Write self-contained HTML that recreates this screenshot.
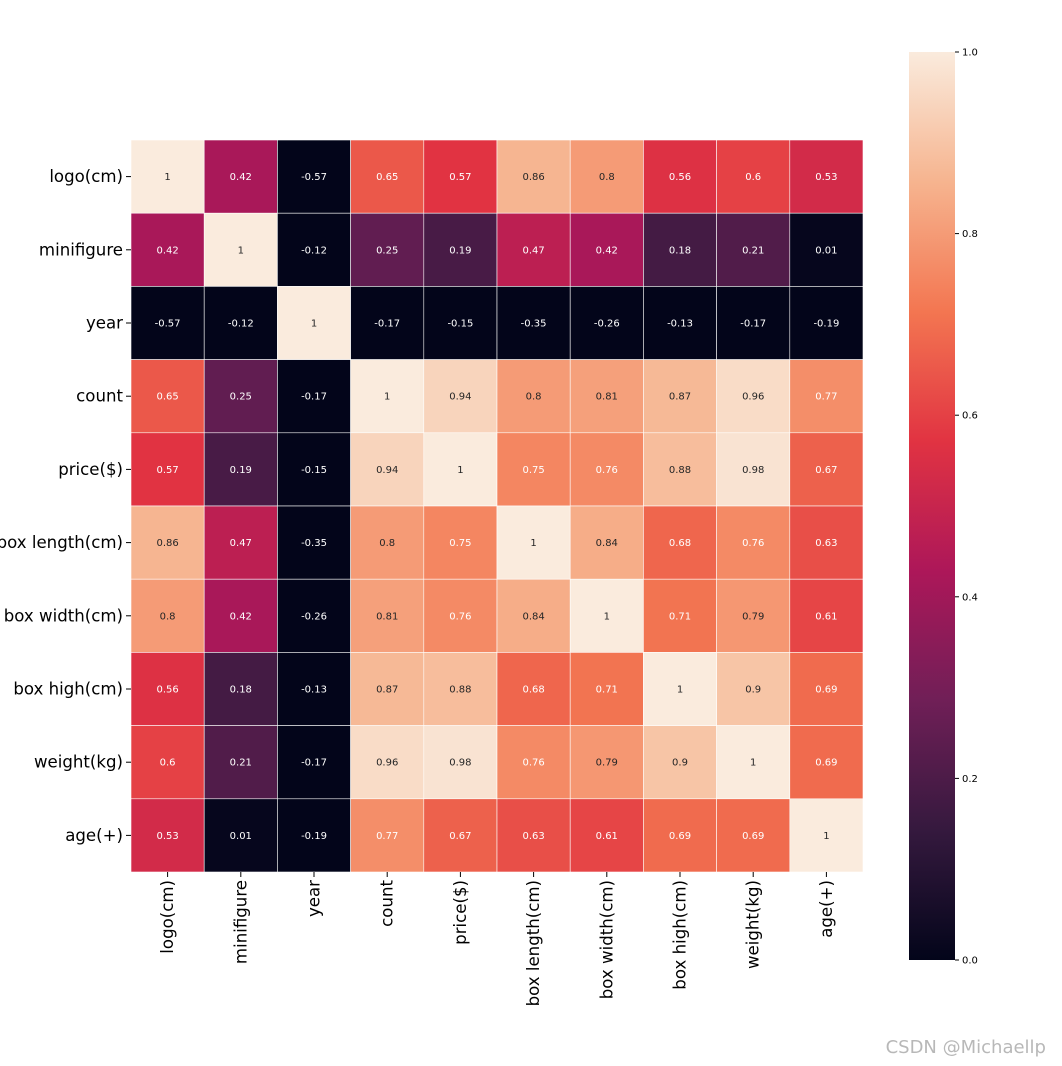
<!DOCTYPE html>
<html><head><meta charset="utf-8"><style>body{margin:0;background:#fff}svg{display:block}</style></head>
<body>
<svg id="c" width="1062" height="1066" xmlns="http://www.w3.org/2000/svg" font-family="'DejaVu Sans','Liberation Sans',sans-serif">
<defs><linearGradient id="cbg" x1="0" y1="1" x2="0" y2="0">
<stop offset="0" stop-color="#03051a"/><stop offset="0.143" stop-color="#35193e"/><stop offset="0.286" stop-color="#701f57"/><stop offset="0.429" stop-color="#ad1759"/><stop offset="0.571" stop-color="#e13342"/><stop offset="0.714" stop-color="#f37651"/><stop offset="0.857" stop-color="#f6b48f"/><stop offset="1" stop-color="#faebdd"/>
</linearGradient></defs>
<g id="cells"></g><g id="ylab"></g><g id="xlab"></g>
<rect x="909" y="52" width="46" height="908" fill="url(#cbg)"/>
<g id="cbt"></g>
<text x="1046" y="1053" text-anchor="end" font-size="18" fill="#b8b8b8" font-family="'DejaVu Sans','Noto Sans CJK SC',sans-serif">CSDN @Michaellp</text>
</svg>
<script>
const labels=["logo(cm)","minifigure","year","count","price($)","box length(cm)","box width(cm)","box high(cm)","weight(kg)","age(+)"];
const row0=[1,0.42,-0.57,0.65,0.57,0.86,0.8,0.56,0.6,0.53];
const row1=[0.42,1,-0.12,0.25,0.19,0.47,0.42,0.18,0.21,0.01];
const row2=[-0.57,-0.12,1,-0.17,-0.15,-0.35,-0.26,-0.13,-0.17,-0.19];
const row3=[0.65,0.25,-0.17,1,0.94,0.8,0.81,0.87,0.96,0.77];
const row4=[0.57,0.19,-0.15,0.94,1,0.75,0.76,0.88,0.98,0.67];
const row5=[0.86,0.47,-0.35,0.8,0.75,1,0.84,0.68,0.76,0.63];
const row6=[0.8,0.42,-0.26,0.81,0.76,0.84,1,0.71,0.79,0.61];
const row7=[0.56,0.18,-0.13,0.87,0.88,0.68,0.71,1,0.9,0.69];
const row8=[0.6,0.21,-0.17,0.96,0.98,0.76,0.79,0.9,1,0.69];
const row9=[0.53,0.01,-0.19,0.77,0.67,0.63,0.61,0.69,0.69,1];
const matrix=[row0,row1,row2,row3,row4,row5,row6,row7,row8,row9];
const cbTicks=[0,0.2,0.4,0.6,0.8,1.0];
const NS="http://www.w3.org/2000/svg";
const X0=131,Y0=140,W=732,n=labels.length,cs=W/n;
const CB0=960,CB1=52;
const stops=[[0,[3,5,26]],[0.143,[53,25,62]],[0.286,[112,31,87]],[0.429,[173,23,89]],[0.571,[225,51,66]],[0.714,[243,118,81]],[0.857,[246,180,143]],[1,[250,235,221]]];
function cmap(v){v=Math.max(0,Math.min(1,v));for(let i=1;i<stops.length;i++){if(v<=stops[i][0]){const a=stops[i-1],b=stops[i],t=(v-a[0])/(b[0]-a[0]);return a[1].map((c,k)=>Math.round(c+(b[1][k]-c)*t));}}return stops[stops.length-1][1];}
function lum(c){const l=c.map(x=>{x/=255;return x<=0.03928?x/12.92:Math.pow((x+0.055)/1.055,2.4)});return .2126*l[0]+.7152*l[1]+.0722*l[2];}
function el(tag,attrs,parent){const e=document.createElementNS(NS,tag);for(const k in attrs)e.setAttribute(k,attrs[k]);parent.appendChild(e);return e;}
const cells=document.getElementById('cells');
matrix.forEach((row,i)=>row.forEach((v,j)=>{
 const c=cmap(v);
 const r=el('rect',{x:X0+j*cs,y:Y0+i*cs,width:cs,height:cs,fill:`rgb(${c})`,stroke:'#fff','stroke-width':0.6},cells);
 
 
 const t=el('text',{x:X0+(j+.5)*cs,y:Y0+(i+.5)*cs+3.5,'text-anchor':'middle','font-size':10,fill:lum(c)>0.408?'#262626':'#fff'},cells);
 t.textContent=String(v);
 
 
}));
const yl=document.getElementById('ylab'),xl=document.getElementById('xlab');
labels.forEach((s,i)=>{
 const y=Y0+(i+.5)*cs;
 el('line',{x1:X0-5,x2:X0,y1:y,y2:y,stroke:'#000'},yl);
 const t=el('text',{x:X0-8,y:y+5.5,'text-anchor':'end','font-size':16.6,fill:'#000'},yl);
 t.textContent=s;
 
 
 const x=X0+(i+.5)*cs;
 el('line',{x1:x,x2:x,y1:Y0+W,y2:Y0+W+5,stroke:'#000'},xl);
 const u=el('text',{x:0,y:0,'text-anchor':'end','font-size':16.6,fill:'#000',transform:`translate(${x+5.5},${Y0+W+8}) rotate(-90)`},xl);
 u.textContent=s;
 
 
});
const cb=document.getElementById('cbt');
cbTicks.forEach(v=>{
 const y=CB0+(CB1-CB0)*v;
 el('line',{x1:955,x2:959,y1:y,y2:y,stroke:'#000'},cb);
 const t=el('text',{x:962,y:y+3.5,'font-size':10,fill:'#000'},cb);
 t.textContent=v.toFixed(1);
 
 
});
</script>
</body></html>
